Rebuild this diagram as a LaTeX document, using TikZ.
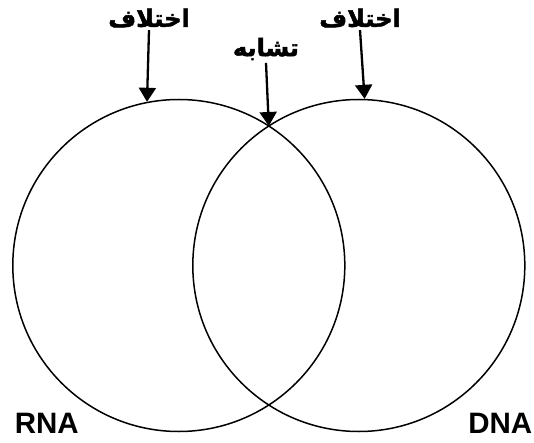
\documentclass[tikz,border=0pt]{standalone}
\usepackage{fontspec}
\setmainfont{Liberation Sans}
\newfontfamily\arabicfont[Script=Arabic, BoldFeatures={FakeBold=2}]{DejaVu Sans}
\TeXXeTstate=1
\usetikzlibrary{arrows.meta}

\begin{document}
\begin{tikzpicture}[x=1pt, y=-1pt, >={Triangle[width=17pt,length=14pt]}, line width=1.5pt,
    arlab/.style={font=\arabicfont\bfseries\fontsize{24}{28}\selectfont, inner sep=2pt},
    enlab/.style={font=\bfseries\fontsize{29.5}{30}\selectfont, inner sep=0pt},
    pointer/.style={->, line width=2.3pt}]
      \useasboundingbox (0,0) rectangle (534,443);

      % the two sets
      \node [draw=black, circle, minimum size=332pt, name=rna] at (178.8,265.5) {};
      \node [draw=black, circle, minimum size=332pt, name=dna] at (358.8,265.5) {};
      \coordinate (meet) at (268.8,126);

      \node [arlab, name=difrna] at (149,18) {\beginR اختلاف\endR};
      \node [arlab, name=same] at (266,49) {\beginR تشابه\endR};
      \node [arlab, name=difdna] at (360,18) {\beginR اختلاف\endR};

      \node [enlab, anchor=base west, name=rnaname] at (14,433) {RNA};
      \node [enlab, anchor=base east, name=dnaname] at (533,433) {DNA};

      \draw [pointer] (difrna.south) -- (rna.101);
      \draw [pointer] (same.south) -- (meet);
      \draw [pointer] (difdna.south) -- (dna.88);

    \end{tikzpicture}
\end{document}
